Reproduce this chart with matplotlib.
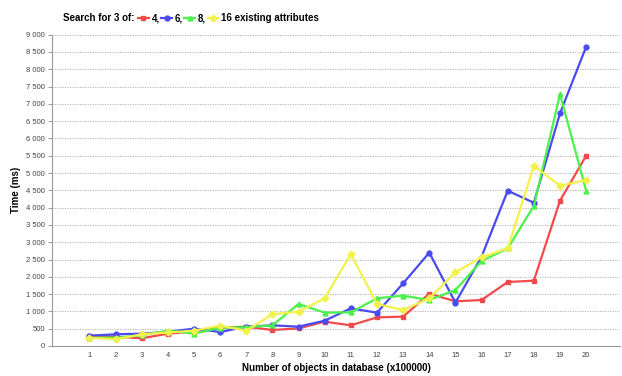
import matplotlib.pyplot as plt
from matplotlib.lines import Line2D
from matplotlib.ticker import FuncFormatter

plt.rcParams['font.family'] = ['Liberation Sans', 'DejaVu Sans']

objects = list(range(1, 21))
attr_4 = [298, 270, 222, 356, 419, 530, 559, 462, 510, 703, 597, 828, 848, 1513,
          1291, 1329, 1850, 1888, 4200, 5500]
attr_6 = [298, 338, 356, 410, 501, 404, 559, 597, 559, 732, 1089, 963, 1811, 2698,
          1252, 2582, 4488, 4142, 6725, 8650]
attr_8 = [240, 240, 309, 443, 356, 530, 540, 597, 1214, 963, 973, 1378, 1455, 1329,
          1618, 2457, 2823, 4046, 7283, 4488]
attr_16 = [240, 193, 338, 391, 443, 588, 443, 915, 992, 1378, 2659, 1214, 1040, 1378,
           2130, 2563, 2823, 5211, 4633, 4798]

series = [
    ("4,", attr_4, "#f24a4a", "s"),
    ("6,", attr_6, "#4a4af2", "o"),
    ("8,", attr_8, "#4af24a", "^"),
    ("16 existing attributes", attr_16, "#f2f24a", "D"),
]


def thousands(v, pos):
    return f"{int(v):,}".replace(",", " ")


def main():
    fig = plt.figure(figsize=(6.22, 3.76), dpi=100)
    ax = fig.add_axes([0.0836, 0.0798, 0.9134, 0.828])

    handles = []
    for label, values, color, marker in series:
        ax.plot(objects, values, color=color, lw=1.6, marker=marker, ms=3.5,
                mec=color, mfc=color)
        handles.append(Line2D([0], [0], color=color, lw=1.6, marker=marker, ms=3.5))

    ax.set_xlim(-0.43, 21.3)
    ax.set_ylim(0, 9000)
    ax.set_xticks(objects)
    ax.set_yticks(range(0, 9001, 500))
    ax.yaxis.set_major_formatter(FuncFormatter(thousands))
    ax.tick_params(axis="x", length=0, labelsize=5.5, labelcolor="#444444", pad=4)
    ax.tick_params(axis="y", length=3, width=0.6, color="#888888", labelsize=5.5,
                   labelcolor="#444444", pad=2)
    ax.grid(axis="y", color="#aaaaaa", linestyle=(0, (1.5, 1.5)), lw=0.6)
    ax.set_axisbelow(True)
    for side in ("top", "right"):
        ax.spines[side].set_visible(False)
    for side in ("left", "bottom"):
        ax.spines[side].set_color("#999999")
        ax.spines[side].set_linewidth(0.8)

    ax.set_xlabel("Number of objects in database (x100000)", fontsize=7,
                  fontweight="bold", labelpad=3)
    ax.set_ylabel("Time (ms)", fontsize=7, fontweight="bold", labelpad=4)

    fig.text(0.102, 0.952, "Search for 3 of:", fontsize=7, fontweight="bold",
             va="center")
    leg = fig.legend(handles, [s[0] for s in series], ncol=4, loc="center left",
                     bbox_to_anchor=(0.222, 0.952), frameon=False, fontsize=7,
                     handlelength=1.1, handletextpad=0.3, columnspacing=0.15,
                     borderpad=0, borderaxespad=0)
    for t in leg.get_texts():
        t.set_fontweight("bold")

    fig.savefig("out.png", dpi=100)


if __name__ == "__main__":
    main()
